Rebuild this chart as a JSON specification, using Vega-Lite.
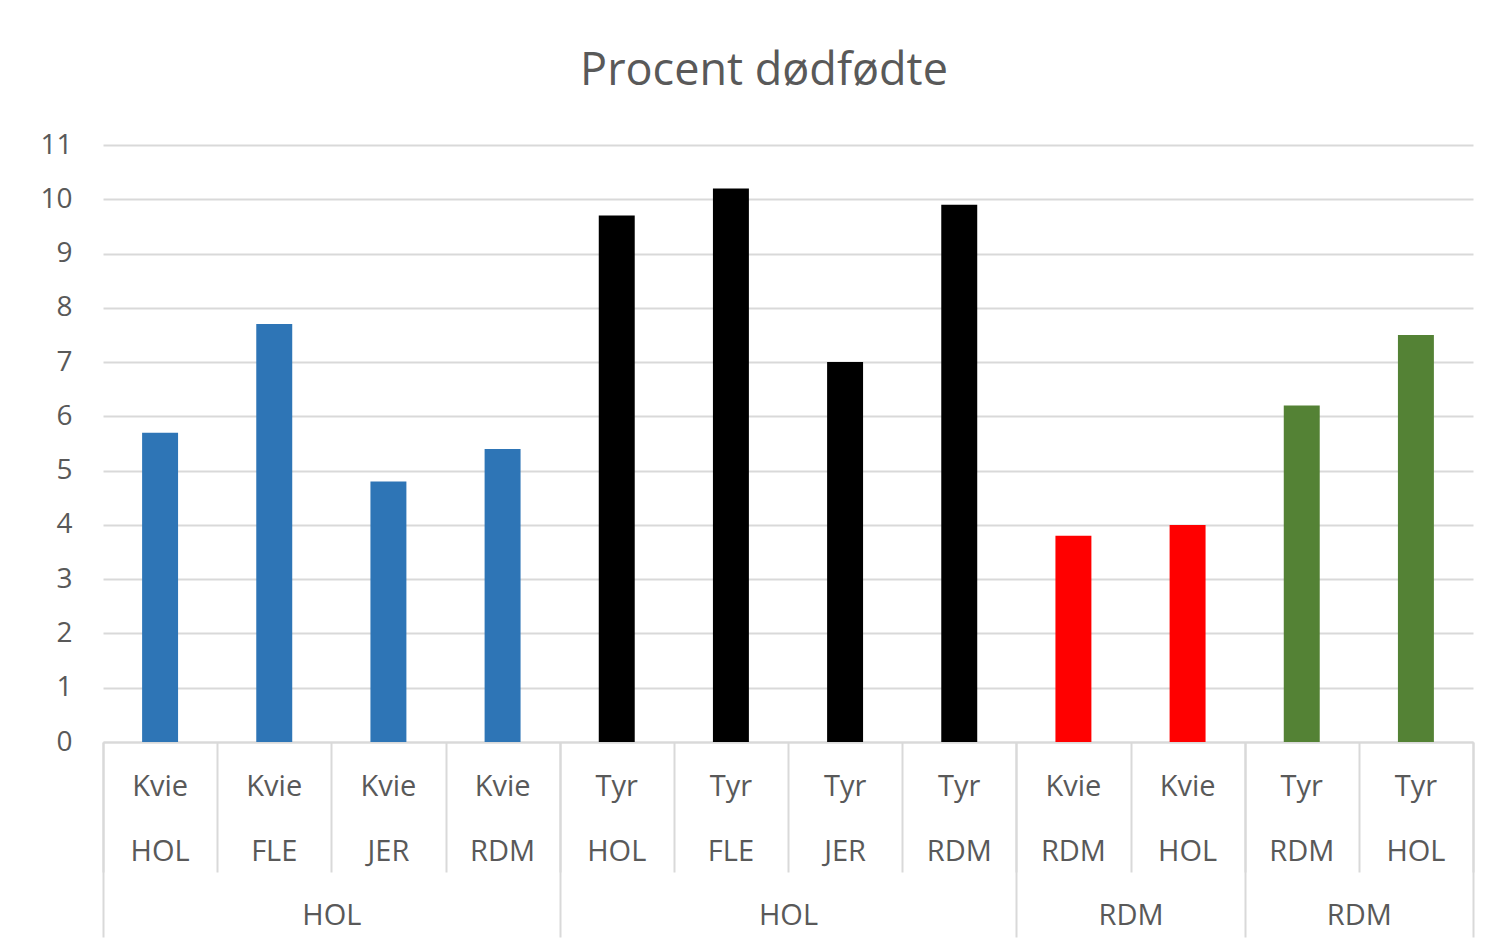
{
  "$schema": "https://vega.github.io/schema/vega-lite/v6.json",
  "width": 1370,
  "height": 597,
  "autosize": {"type": "none"},
  "padding": {"left": 103, "top": 145, "right": 36, "bottom": 210},
  "background": "white",
  "title": {
    "text": "Procent dødfødte",
    "font": "Open Sans",
    "fontSize": 45,
    "fontWeight": "normal",
    "color": "#595959",
    "anchor": "middle",
    "baseline": "alphabetic",
    "dx": -24,
    "offset": 1
  },
  "datasets": {
    "soejler": [
      {"kategori": "01|Kvie|HOL", "gruppe": "1", "procent": 5.7},
      {"kategori": "02|Kvie|FLE", "gruppe": "1", "procent": 7.7},
      {"kategori": "03|Kvie|JER", "gruppe": "1", "procent": 4.8},
      {"kategori": "04|Kvie|RDM", "gruppe": "1", "procent": 5.4},
      {"kategori": "05|Tyr|HOL", "gruppe": "2", "procent": 9.7},
      {"kategori": "06|Tyr|FLE", "gruppe": "2", "procent": 10.2},
      {"kategori": "07|Tyr|JER", "gruppe": "2", "procent": 7.0},
      {"kategori": "08|Tyr|RDM", "gruppe": "2", "procent": 9.9},
      {"kategori": "09|Kvie|RDM", "gruppe": "3", "procent": 3.8},
      {"kategori": "10|Kvie|HOL", "gruppe": "3", "procent": 4.0},
      {"kategori": "11|Tyr|RDM", "gruppe": "4", "procent": 6.2},
      {"kategori": "12|Tyr|HOL", "gruppe": "4", "procent": 7.5}
    ],
    "grupper": [
      {"navn": "HOL", "start": 0, "slut": 4, "midt": 2},
      {"navn": "HOL", "start": 4, "slut": 8, "midt": 6},
      {"navn": "RDM", "start": 8, "slut": 10, "midt": 9},
      {"navn": "RDM", "start": 10, "slut": 12, "midt": 11}
    ]
  },
  "config": {
    "font": "Open Sans",
    "view": {"stroke": null},
    "axis": {
      "labelColor": "#595959",
      "labelFont": "Open Sans",
      "labelFontSize": 29
    }
  },
  "resolve": {"scale": {"x": "independent"}, "axis": {"x": "independent"}},
  "layer": [
    {
      "data": {"name": "soejler"},
      "mark": {"type": "bar"},
      "encoding": {
        "x": {
          "field": "kategori",
          "type": "nominal",
          "sort": null,
          "scale": {"paddingInner": 0.685, "paddingOuter": 0.3425},
          "axis": {
            "orient": "bottom",
            "title": null,
            "labelAngle": 0,
            "labelExpr": "slice(split(datum.label, '|'), 1)",
            "labelLineHeight": 65,
            "labelBaseline": "top",
            "labelPadding": 30,
            "labelOverlap": false,
            "ticks": false,
            "tickSize": 0,
            "domainColor": "#D9D9D9",
            "domainWidth": 2
          }
        },
        "y": {
          "field": "procent",
          "type": "quantitative",
          "scale": {"domain": [0, 11], "nice": false},
          "axis": {
            "title": null,
            "values": [0, 1, 2, 3, 4, 5, 6, 7, 8, 9, 10, 11],
            "grid": true,
            "gridColor": "#D9D9D9",
            "gridWidth": 2,
            "domain": false,
            "ticks": false,
            "labelPadding": 31,
            "labelFontSize": 28
          }
        },
        "color": {
          "field": "gruppe",
          "type": "nominal",
          "scale": {"domain": ["1", "2", "3", "4"], "range": ["#2E75B6", "#000000", "#FF0000", "#548235"]},
          "legend": null
        }
      }
    },
    {
      "data": {"name": "grupper"},
      "mark": {"type": "point", "opacity": 0},
      "encoding": {
        "x": {
          "field": "start",
          "type": "quantitative",
          "scale": {"domain": [0, 12], "nice": false, "zero": false},
          "axis": {
            "orient": "bottom",
            "title": null,
            "values": [0, 1, 2, 3, 4, 5, 6, 7, 8, 9, 10, 11, 12],
            "labels": false,
            "domain": false,
            "grid": false,
            "tickSize": 130,
            "tickColor": "#D9D9D9",
            "tickWidth": 2
          }
        }
      }
    },
    {
      "data": {"name": "grupper"},
      "mark": {"type": "point", "opacity": 0},
      "encoding": {
        "x": {
          "field": "slut",
          "type": "quantitative",
          "scale": {"domain": [0, 12], "nice": false, "zero": false},
          "axis": {
            "orient": "bottom",
            "title": null,
            "values": [0, 4, 8, 10, 12],
            "labels": false,
            "domain": false,
            "grid": false,
            "tickSize": 195,
            "tickColor": "#D9D9D9",
            "tickWidth": 2
          }
        }
      }
    },
    {
      "data": {"name": "grupper"},
      "mark": {"type": "point", "opacity": 0},
      "encoding": {
        "x": {
          "field": "midt",
          "type": "quantitative",
          "scale": {"domain": [0, 12], "nice": false, "zero": false},
          "axis": {
            "orient": "bottom",
            "title": null,
            "values": [2, 6, 9, 11],
            "ticks": false,
            "tickSize": 0,
            "domain": false,
            "grid": false,
            "labelFlush": false,
            "labelOverlap": false,
            "labelBaseline": "top",
            "labelPadding": 159,
            "labelExpr": "pluck(data('grupper'), 'navn')[indexof(pluck(data('grupper'), 'midt'), datum.value)]"
          }
        }
      }
    }
  ]
}
